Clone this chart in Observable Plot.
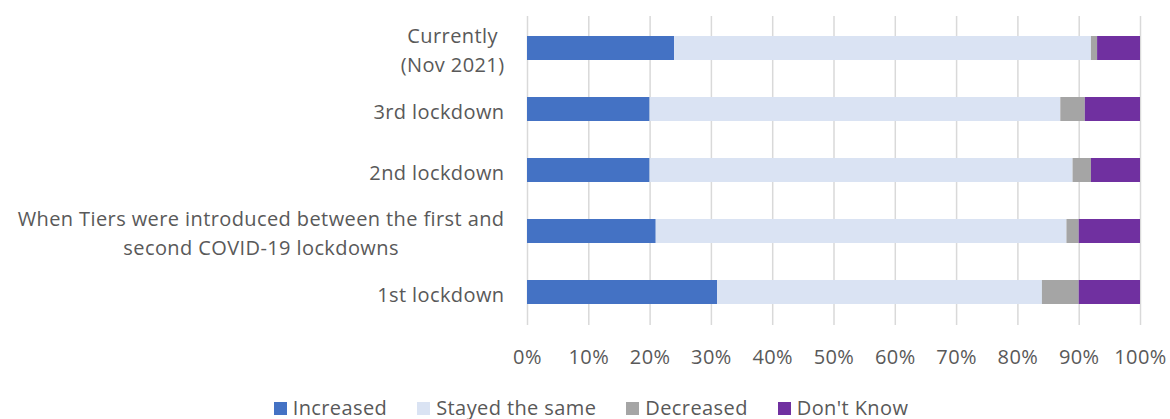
<!DOCTYPE html>
<html>
<head>
<meta charset="utf-8">
<script src="https://cdn.jsdelivr.net/npm/d3@7"></script>
<script src="https://cdn.jsdelivr.net/npm/@observablehq/plot@0.6"></script>
<style>
  body { margin: 0; background: #fff; font-family: "Open Sans", sans-serif; }
  #legend { display: flex; justify-content: center; align-items: center; gap: 30px;
            font-size: 20px; color: #595959; height: 26px; margin-top: 14px; padding-left: 12px;
            letter-spacing: 0.4px; }
  #legend span.sw { display: inline-block; width: 13px; height: 13px; margin-right: 6px; margin-top: 3px; }
  #legend .item { display: flex; align-items: center; }
</style>
</head>
<body>
<div id="chart"></div>
<div id="legend"></div>
<script>
const categories = [
  "Currently\n(Nov 2021)",
  "3rd lockdown",
  "2nd lockdown",
  "When Tiers were introduced between the first and\nsecond COVID-19 lockdowns",
  "1st lockdown"
];
const seriesNames = ["Increased", "Stayed the same", "Decreased", "Don't Know"];
const increased = [24, 20, 20, 21, 31];
const stayedSame = [68, 67, 69, 67, 53];
const decreased = [1, 4, 3, 2, 6];
const dontKnow = [7, 9, 8, 10, 10];
const xTicks = [0, 10, 20, 30, 40, 50, 60, 70, 80, 90, 100];
const colors = ["#4472C4", "#DAE3F3", "#A5A5A5", "#7030A0"];

const seriesValues = [increased, stayedSame, decreased, dontKnow];
const rows = [];
categories.forEach((c, i) => {
  seriesNames.forEach((s, j) => rows.push({category: c, series: s, value: seriesValues[j][i]}));
});

const fontSize = 20;
const letterSpacing = 0.4;
const fontFamily = "'Open Sans', sans-serif";
const ctx = document.createElement("canvas").getContext("2d");
ctx.font = `${fontSize}px ${fontFamily}`;
const measure = s => ctx.measureText(s).width + s.length * letterSpacing;
const gap = 23;

const labelMarks = categories.map(c => {
  const lines = c.split("\n");
  const multi = lines.length > 1;
  const w = Math.max(...lines.map(measure));
  return Plot.text([c], {
    y: d => d,
    frameAnchor: "left",
    textAnchor: multi ? "middle" : "end",
    dx: multi ? -(gap + w / 2) : -gap,
    lineHeight: 1.45,
    fontSize,
    fill: "#595959"
  });
});

const chart = Plot.plot({
  width: 1170,
  height: 380,
  marginLeft: 527,
  marginRight: 30,
  marginTop: 16,
  marginBottom: 55,
  style: {fontFamily, fontSize: fontSize + "px", color: "#595959", background: "#fff", letterSpacing: letterSpacing + "px"},
  x: {domain: [0, 100], label: null, axis: null},
  y: {domain: categories, paddingInner: 0.6, paddingOuter: 0.3, label: null, axis: null},
  color: {domain: seriesNames, range: colors},
  marks: [
    Plot.gridX(xTicks, {stroke: "#D9D9D9", strokeOpacity: 1, strokeWidth: 1.5}),
    Plot.barX(rows, Plot.stackX({
      x: "value", y: "category", fill: "series", order: seriesNames
    })),
    Plot.axisX(xTicks, {tickSize: 0, tickPadding: 24, tickFormat: d => d + "%", fontSize, fill: "#595959", label: null}),
    ...labelMarks
  ]
});
document.getElementById("chart").appendChild(chart);

const legend = document.getElementById("legend");
seriesNames.forEach((s, i) => {
  const item = document.createElement("div");
  item.className = "item";
  const sw = document.createElement("span");
  sw.className = "sw";
  sw.style.background = colors[i];
  item.appendChild(sw);
  item.appendChild(document.createTextNode(s));
  legend.appendChild(item);
});
</script>
</body>
</html>
